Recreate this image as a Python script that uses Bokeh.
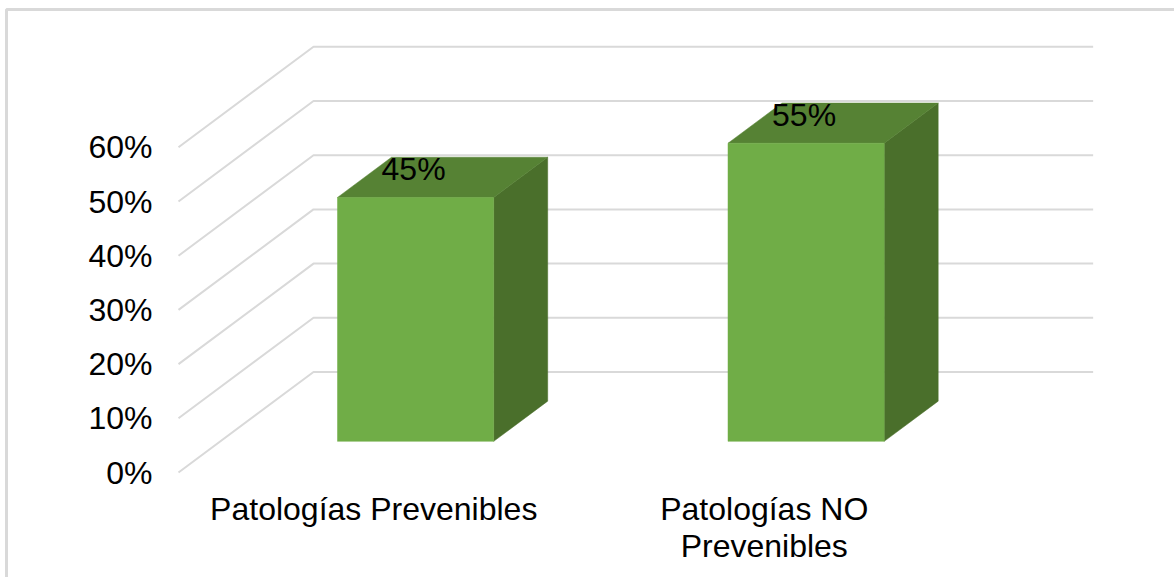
from bokeh.plotting import figure
from bokeh.models import FixedTicker, Range1d
from bokeh.embed import file_html
from bokeh.resources import INLINE
from bokeh.core.properties import value

categories = ["Patologías Prevenibles", "Patologías NO\nPrevenibles"]
values = [45, 55]
y_ticks = [0, 10, 20, 30, 40, 50, 60]
y_tick_labels = ["0%", "10%", "20%", "30%", "40%", "50%", "60%"]
data_labels = ["45%", "55%"]

FONT = "Liberation Sans"
W, H = 1174, 577
X0_PX, Y0_PX = 178, 472          # screen position of the origin of the 3-D box
UX, UY = 390.5, 5.42             # px per category, px per percent
DEPTH_X, DEPTH_Y = 135 / UX, 100.5 / UY   # full floor depth in data units
T0, T1 = 0.31, 0.71              # bar's front and back depth fraction
BAR_W = 0.4

def px_x(px):
    return (px - X0_PX) / UX

def px_y(px):
    return (Y0_PX - px) / UY

p = figure(
    width=W, height=H, output_backend="svg", toolbar_location=None,
    x_range=Range1d(px_x(0), px_x(W)),
    y_range=Range1d(px_y(H), px_y(0)),
    min_border=0,
    background_fill_color="white", border_fill_color="white",
)
p.outline_line_color = None
p.grid.visible = False
p.xaxis.visible = False

# y axis, pinned to the front-left edge of the 3-D box
ya = p.yaxis[0]
ya.fixed_location = 0
ya.ticker = FixedTicker(ticks=y_ticks)
ya.major_label_overrides = dict(zip(y_ticks, y_tick_labels))
ya.axis_line_color = None
ya.major_tick_line_color = None
ya.minor_tick_line_color = None
ya.major_label_standoff = 20
ya.major_label_text_font = FONT
ya.major_label_text_font_size = "32px"
ya.major_label_text_color = "#000000"

# chart-area border (right and bottom sides fall outside the picture)
p.line([px_x(6), px_x(6), px_x(W)], [px_y(H), px_y(9), px_y(9)],
       line_color="#D9D9D9", line_width=3)

# 3-D gridlines: along the side wall, then along the back wall
for t in y_ticks:
    p.line([0, DEPTH_X, 2 + DEPTH_X * 0.99],
           [t, t + DEPTH_Y, t + DEPTH_Y],
           line_color="#D9D9D9", line_width=2)

# category labels
positions = [i + 0.5 for i in range(len(categories))]
p.text(positions, [px_y(490)] * len(positions), text=categories,
       text_align="center", text_baseline="top", text_font=value(FONT),
       text_font_size="32px", text_color="#000000", text_line_height=1.03)

# bars
sx0, sy0 = T0 * DEPTH_X, T0 * DEPTH_Y
sx1, sy1 = T1 * DEPTH_X, T1 * DEPTH_Y
for c, v, lab in zip(positions, values, data_labels):
    l, r = c - BAR_W / 2 + sx0, c + BAR_W / 2 + sx0
    b, tp = sy0, v + sy0
    ddx, ddy = sx1 - sx0, sy1 - sy0
    p.patch([r, r + ddx, r + ddx, r], [b, b + ddy, tp + ddy, tp],
            fill_color="#4A6F2B", line_color="#4A6F2B", line_width=0.5)
    p.patch([l, r, r + ddx, l + ddx], [tp, tp, tp + ddy, tp + ddy],
            fill_color="#568234", line_color="#568234", line_width=0.5)
    p.patch([l, r, r, l], [b, b, tp, tp],
            fill_color="#70AD47", line_color="#70AD47", line_width=0.5)
    p.text([(l + r) / 2 - 2 / UX], [tp + 5.3], text=[lab], text_align="center",
           text_baseline="middle", text_font=value(FONT),
           text_font_size="32px", text_color="#000000")

open("out.html", "w").write(file_html(p, INLINE))
